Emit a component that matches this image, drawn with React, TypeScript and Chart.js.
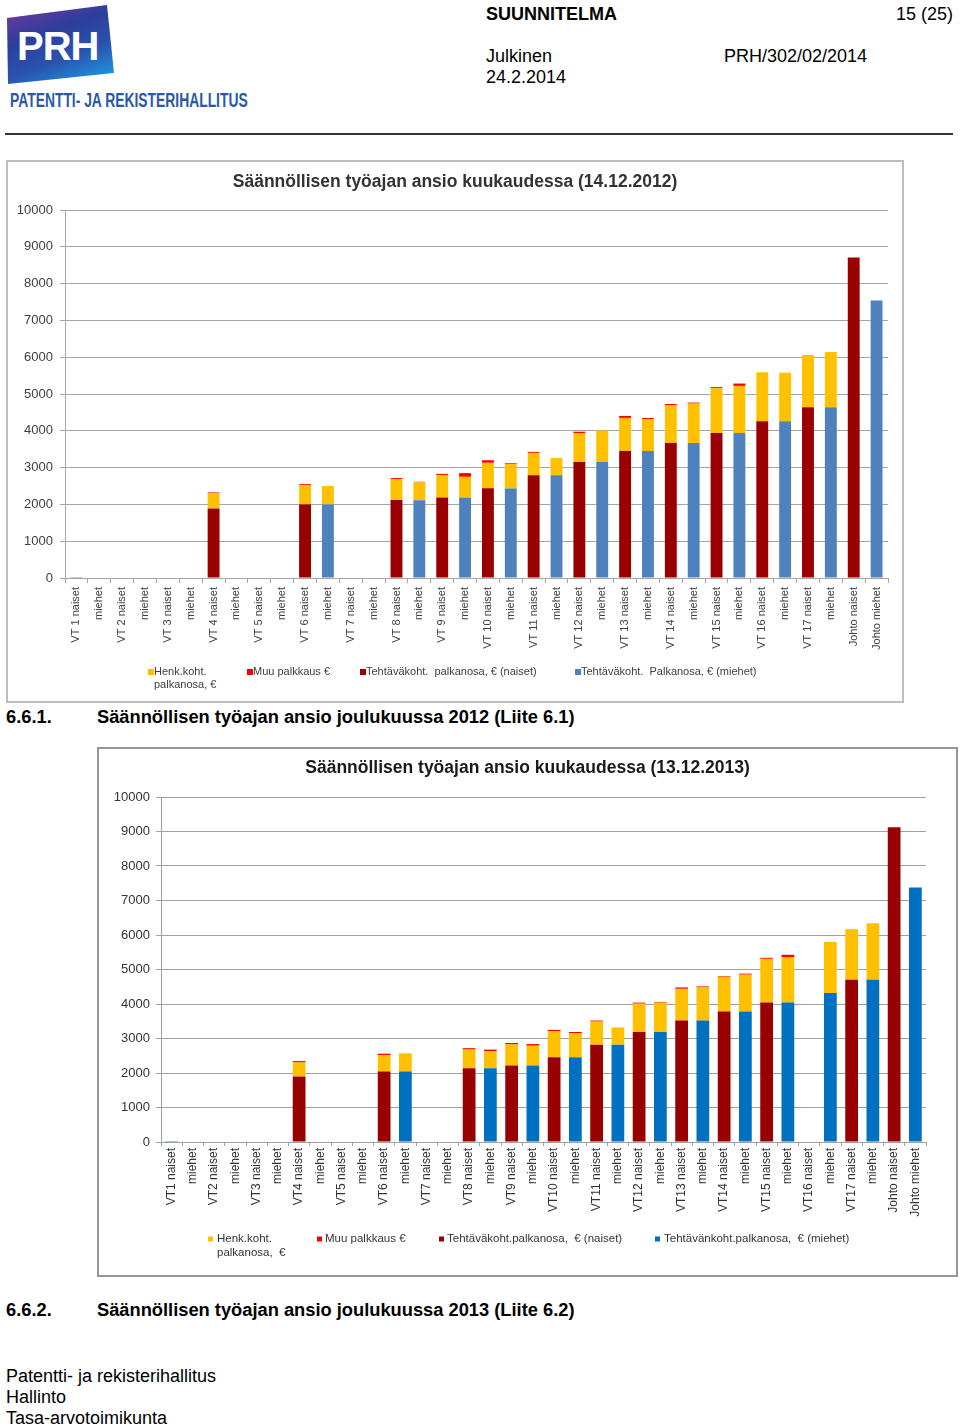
import React, { useEffect, useRef } from "react";
import { Chart, registerables } from "chart.js";

Chart.register(...registerables);

// ---------- DATA ----------
const categories2012 = [
  "VT 1 naiset", "miehet", "VT 2 naiset", "miehet", "VT 3 naiset", "miehet",
  "VT 4 naiset", "miehet", "VT 5 naiset", "miehet", "VT 6 naiset", "miehet",
  "VT 7 naiset", "miehet", "VT 8 naiset", "miehet", "VT 9 naiset", "miehet",
  "VT 10 naiset", "miehet", "VT 11 naiset", "miehet", "VT 12 naiset", "miehet",
  "VT 13 naiset", "miehet", "VT 14 naiset", "miehet", "VT 15 naiset", "miehet",
  "VT 16 naiset", "miehet", "VT 17 naiset", "miehet", "Johto naiset", "Johto miehet",
];
const categories2013 = [
  "VT1 naiset", "miehet", "VT2 naiset", "miehet", "VT3 naiset", "miehet",
  "VT4 naiset", "miehet", "VT5 naiset", "miehet", "VT6 naiset", "miehet",
  "VT7 naiset", "miehet", "VT8 naiset", "miehet", "VT9 naiset", "miehet",
  "VT10 naiset", "miehet", "VT11 naiset", "miehet", "VT12 naiset", "miehet",
  "VT13 naiset", "miehet", "VT14 naiset", "miehet", "VT15 naiset", "miehet",
  "VT16 naiset", "miehet", "VT17 naiset", "miehet", "Johto naiset", "Johto miehet",
];

// 14.12.2012
const tehtNaiset2012 = [0,0,0,0,0,0,1890,0,0,0,2000,0,0,0,2120,0,2190,0,2440,0,2790,0,3150,0,3450,0,3670,0,3940,0,4260,0,4640,0,8710,0];
const tehtMiehet2012 = [25,0,0,0,0,0,0,0,0,0,0,2000,0,0,0,2110,0,2190,0,2430,0,2790,0,3150,0,3450,0,3670,0,3940,0,4260,0,4640,0,7540];
const henk2012 = [0,0,0,0,0,0,410,0,0,0,520,500,0,0,570,490,610,560,690,660,610,470,790,860,900,870,1020,1070,1220,1280,1330,1320,1420,1500,0,0];
const muu2012 = [0,0,0,0,0,0,25,0,0,0,30,0,0,0,25,15,30,100,70,27,27,0,36,0,54,27,37,27,27,64,0,0,0,0,0,0];

// 13.12.2013
const tehtNaiset2013 = [0,0,0,0,0,0,1900,0,0,0,2040,0,0,0,2140,0,2220,0,2460,0,2820,0,3190,0,3520,0,3780,0,4040,0,0,0,4700,0,9120,0];
const tehtMiehet2013 = [25,0,0,0,0,0,0,0,0,0,0,2040,0,0,0,2140,0,2220,0,2460,0,2820,0,3190,0,3520,0,3780,0,4040,0,4320,0,4700,0,7380];
const henk2013 = [0,0,0,0,0,0,405,0,0,0,480,530,0,0,540,490,610,570,750,690,670,500,820,850,920,960,1010,1070,1270,1310,0,1480,1470,1640,0,0];
const muu2013 = [0,0,0,0,0,0,40,0,0,0,40,0,0,0,40,48,40,48,40,38,30,0,30,20,40,30,20,30,30,77,0,0,0,0,0,0];

const legend2012 = ["Henk.koht.\npalkanosa, €", "Muu palkkaus €", "Tehtäväkoht.  palkanosa, € (naiset)", "Tehtäväkoht.  Palkanosa, € (miehet)"];
const legend2013 = ["Henk.koht.\npalkanosa,  €", "Muu palkkaus €", "Tehtäväkoht.palkanosa,  € (naiset)", "Tehtävänkoht.palkanosa,  € (miehet)"];

const yTicksMax = 10000;
const yTicksStep = 1000;

const FONT = "Arial, 'Liberation Sans', sans-serif";

type ChartSpec = {
  width: number;
  height: number;
  title: string;
  titleColor: string;
  titleSize: number;
  titleY: number;
  plotTop: number;
  labels: string[];
  naiset: number[];
  miehet: number[];
  henk: number[];
  muu: number[];
  legendLabels: string[];
  colors: { naiset: string; miehet: string; henk: string; muu: string };
  yWidth: number;
  xHeight: number;
  padRight: number;
  barPct: number;
  xFont: number;
  yFont: number;
  tickColor: string;
  gridColor: string;
  yPad: number;
  xPad: number;
  xTickLen: number;
  legendPos: { sq: number; tx: number }[];
  legendY: number;
  legendFont: number;
  legendLine: number;
  legendSq: number;
};

function StackedChart({ spec }: { spec: ChartSpec }) {
  const ref = useRef<HTMLCanvasElement>(null);
  useEffect(() => {
    if (!ref.current) return;
    const s = spec;
    // legend item order: Henk, Muu, naiset, miehet
    const legendColors = [s.colors.henk, s.colors.muu, s.colors.naiset, s.colors.miehet];
    const decorPlugin = {
      id: "decor",
      afterDraw(chart: any) {
        const ctx = chart.ctx;
        ctx.save();
        // title centred on the whole canvas
        ctx.font = `bold ${s.titleSize}px ${FONT}`;
        ctx.textAlign = "center";
        ctx.textBaseline = "middle";
        ctx.fillStyle = s.titleColor;
        ctx.fillText(s.title, chart.width / 2, s.titleY);
        // legend
        ctx.textAlign = "left";
        ctx.font = `${s.legendFont}px ${FONT}`;
        s.legendLabels.forEach((lab, i) => {
          const p = s.legendPos[i];
          ctx.fillStyle = legendColors[i];
          ctx.fillRect(p.sq, s.legendY - s.legendSq / 2, s.legendSq, s.legendSq);
          ctx.fillStyle = s.tickColor;
          lab.split("\n").forEach((line, j) => {
            ctx.fillText(line, p.tx, s.legendY + j * s.legendLine);
          });
        });
        ctx.restore();
      },
    };
    const chart = new Chart(ref.current, {
      type: "bar",
      data: {
        labels: s.labels,
        datasets: [
          { label: s.legendLabels[2], data: s.naiset, backgroundColor: s.colors.naiset, stack: "a", barPercentage: s.barPct, categoryPercentage: 1 },
          { label: s.legendLabels[3], data: s.miehet, backgroundColor: s.colors.miehet, stack: "a", barPercentage: s.barPct, categoryPercentage: 1 },
          { label: s.legendLabels[0], data: s.henk, backgroundColor: s.colors.henk, stack: "a", barPercentage: s.barPct, categoryPercentage: 1 },
          { label: s.legendLabels[1], data: s.muu, backgroundColor: s.colors.muu, stack: "a", barPercentage: s.barPct, categoryPercentage: 1 },
        ],
      },
      options: {
        animation: false,
        responsive: false,
        maintainAspectRatio: false,
        layout: { padding: { left: 0, right: s.padRight, top: s.plotTop, bottom: 0 } },
        plugins: {
          legend: { display: false },
          tooltip: { enabled: false },
          title: { display: false },
        },
        scales: {
          x: {
            stacked: true,
            grid: { display: true, drawOnChartArea: false, drawTicks: true, tickLength: s.xTickLen, color: s.gridColor, offset: true },
            border: { color: s.gridColor, width: 1 },
            ticks: {
              autoSkip: false,
              maxRotation: 90,
              minRotation: 90,
              padding: s.xPad,
              color: s.tickColor,
              font: { family: FONT, size: s.xFont },
            },
            afterFit: (scale: any) => { scale.height = s.xHeight; },
          },
          y: {
            stacked: true,
            min: 0,
            max: yTicksMax,
            ticks: {
              stepSize: yTicksStep,
              padding: s.yPad,
              color: s.tickColor,
              font: { family: FONT, size: s.yFont },
              callback: (v: any) => String(v),
            },
            grid: { color: s.gridColor, lineWidth: 1, tickLength: 5 },
            border: { color: s.gridColor, width: 1 },
            afterFit: (scale: any) => { scale.width = s.yWidth; },
          },
        },
      } as any,
      plugins: [decorPlugin],
    });
    return () => chart.destroy();
  }, [spec]);
  return <canvas ref={ref} width={spec.width} height={spec.height} style={{ display: "block", width: spec.width, height: spec.height }} />;
}

const spec2012: ChartSpec = {
  width: 894,
  height: 539,
  title: "Säännöllisen työajan ansio kuukaudessa (14.12.2012)",
  titleColor: "#333333",
  titleSize: 17.5,
  titleY: 20,
  plotTop: 48,
  labels: categories2012,
  naiset: tehtNaiset2012,
  miehet: tehtMiehet2012,
  henk: henk2012,
  muu: muu2012,
  legendLabels: legend2012,
  colors: { naiset: "#990000", miehet: "#4F81BD", henk: "#FFC000", muu: "#FF0000" },
  yWidth: 57,
  xHeight: 123,
  padRight: 14,
  barPct: 0.52,
  xFont: 11,
  yFont: 13,
  tickColor: "#404040",
  gridColor: "#A6A6A6",
  yPad: 7,
  xPad: 4,
  xTickLen: 5,
  legendPos: [
    { sq: 140, tx: 146 },
    { sq: 239, tx: 245 },
    { sq: 352, tx: 358 },
    { sq: 567, tx: 573 },
  ],
  legendY: 510,
  legendFont: 11,
  legendLine: 13,
  legendSq: 6,
};

const spec2013: ChartSpec = {
  width: 857,
  height: 526,
  title: "Säännöllisen työajan ansio kuukaudessa (13.12.2013)",
  titleColor: "#1a1a1a",
  titleSize: 17.5,
  titleY: 19,
  plotTop: 48,
  labels: categories2013,
  naiset: tehtNaiset2013,
  miehet: tehtMiehet2013,
  henk: henk2013,
  muu: muu2013,
  legendLabels: legend2013,
  colors: { naiset: "#990000", miehet: "#0070C0", henk: "#FFC000", muu: "#FF0000" },
  yWidth: 62,
  xHeight: 133,
  padRight: 30,
  barPct: 0.6,
  xFont: 12,
  yFont: 13,
  tickColor: "#333333",
  gridColor: "#A0A0A0",
  yPad: 6,
  xPad: 2,
  xTickLen: 4,
  legendPos: [
    { sq: 109, tx: 118 },
    { sq: 218, tx: 226 },
    { sq: 340, tx: 348 },
    { sq: 556, tx: 565 },
  ],
  legendY: 490,
  legendFont: 11.5,
  legendLine: 14,
  legendSq: 5,
};

function T({ x, yc, size = 18, bold = false, color = "#000", children }: any) {
  const lh = 21;
  return (
    <div style={{ position: "absolute", left: x, top: yc - lh / 2, lineHeight: lh + "px", fontSize: size, fontWeight: bold ? "bold" : "normal", color, whiteSpace: "nowrap" }}>
      {children}
    </div>
  );
}

export default function App() {
  return (
    <div style={{ position: "absolute", left: 0, top: 0, width: 960, height: 1426, fontFamily: FONT, background: "#fff", overflow: "hidden" }}>
      {/* Logo */}
      <div
        style={{
          position: "absolute",
          left: 7,
          top: 5,
          width: 108,
          height: 80,
          clipPath: "polygon(0px 13px, 100px 0px, 107px 68px, 1px 79px)",
          background: "linear-gradient(160deg, #c8288c 0%, #5a3a9e 14%, #2c3e9c 35%, #2a52ad 62%, #1f8ad6 86%, #3cc0f0 100%)",
        }}
      />
      <div style={{ position: "absolute", left: 17, top: 24, fontSize: 40, fontWeight: "bold", color: "#fff", lineHeight: "44px", letterSpacing: -1 }}>PRH</div>
      <div style={{ position: "absolute", left: 10, top: 90, whiteSpace: "nowrap", lineHeight: "20px", fontSize: 21, fontWeight: "bold", color: "#2a58a6", fontFamily: FONT, transform: "scaleX(0.66)", transformOrigin: "left top" }}>
        PATENTTI- JA REKISTERIHALLITUS
      </div>

      <T x={486} yc={14} bold>SUUNNITELMA</T>
      <T x={896} yc={14}>15 (25)</T>
      <T x={486} yc={56}>Julkinen</T>
      <T x={486} yc={77}>24.2.2014</T>
      <T x={724} yc={56}>PRH/302/02/2014</T>
      <div style={{ position: "absolute", left: 5, top: 133, width: 948, height: 2, background: "#333" }} />

      {/* Chart 1 */}
      <div style={{ position: "absolute", left: 6, top: 160, width: 898, height: 543, border: "2px solid #BDBDBD", boxSizing: "border-box" }}>
        <StackedChart spec={spec2012} />
      </div>
      <T x={6} yc={716} bold size={18.3}>6.6.1.</T>
      <T x={97} yc={716} bold size={18.3}>Säännöllisen työajan ansio joulukuussa 2012 (Liite 6.1)</T>

      {/* Chart 2 */}
      <div style={{ position: "absolute", left: 97, top: 747, width: 861, height: 530, border: "2px solid #969696", boxSizing: "border-box" }}>
        <StackedChart spec={spec2013} />
      </div>
      <T x={6} yc={1309} bold size={18.3}>6.6.2.</T>
      <T x={97} yc={1309} bold size={18.3}>Säännöllisen työajan ansio joulukuussa 2013 (Liite 6.2)</T>

      <T x={6} yc={1376}>Patentti- ja rekisterihallitus</T>
      <T x={6} yc={1397}>Hallinto</T>
      <T x={6} yc={1418}>Tasa-arvotoimikunta</T>
    </div>
  );
}
